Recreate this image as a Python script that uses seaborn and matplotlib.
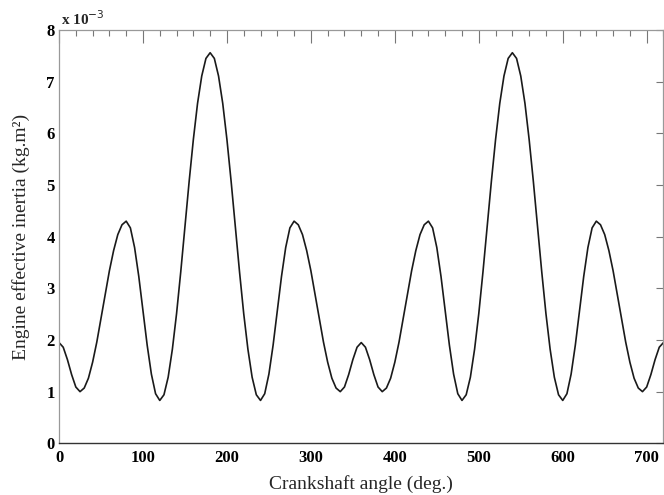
import numpy as np
import pandas as pd
import matplotlib
matplotlib.use("Agg")
import matplotlib.pyplot as plt
from matplotlib.ticker import MultipleLocator
import seaborn as sns

# Crankshaft angle (deg), sampled every 5 degrees
angle = list(range(0, 725, 5))

# Engine effective inertia (x 10^-3 kg.m^2)
inertia_0_360 = [
    1.95, 1.86, 1.62, 1.33, 1.09, 1.00,              # 0-25
    1.07, 1.26, 1.57, 1.96, 2.42, 2.88, 3.34, 3.73,  # 30-65
    4.04, 4.23, 4.30,                                # 70-80
    4.17, 3.79, 3.23, 2.57, 1.90, 1.34, 0.96, 0.83,  # 85-120
    0.94, 1.28, 1.82, 2.51, 3.32, 4.20, 5.07, 5.88,  # 125-160
    6.58, 7.11, 7.45, 7.56,                          # 165-180
    7.45, 7.11, 6.58, 5.88, 5.07, 4.20, 3.32, 2.51,  # 185-220
    1.82, 1.28, 0.94, 0.83,                          # 225-240
    0.96, 1.34, 1.90, 2.57, 3.23, 3.79, 4.17, 4.30,  # 245-280
    4.23, 4.04, 3.73, 3.34, 2.88, 2.42, 1.96, 1.57,  # 285-320
    1.26, 1.07, 1.00,                                # 325-335
    1.09, 1.33, 1.62, 1.86, 1.95,                    # 340-360
]
inertia_365_720 = [
    1.86, 1.62, 1.33, 1.09, 1.00,                    # 365-385
    1.07, 1.26, 1.57, 1.96, 2.42, 2.88, 3.34, 3.73,  # 390-425
    4.04, 4.23, 4.30,                                # 430-440
    4.17, 3.79, 3.23, 2.57, 1.90, 1.34, 0.96, 0.83,  # 445-480
    0.94, 1.28, 1.82, 2.51, 3.32, 4.20, 5.07, 5.88,  # 485-520
    6.58, 7.11, 7.45, 7.56,                          # 525-540
    7.45, 7.11, 6.58, 5.88, 5.07, 4.20, 3.32, 2.51,  # 545-580
    1.82, 1.28, 0.94, 0.83,                          # 585-600
    0.96, 1.34, 1.90, 2.57, 3.23, 3.79, 4.17, 4.30,  # 605-640
    4.23, 4.04, 3.73, 3.34, 2.88, 2.42, 1.96, 1.57,  # 645-680
    1.26, 1.07, 1.00,                                # 685-695
    1.09, 1.33, 1.62, 1.86, 1.95,                    # 700-720
]
inertia = inertia_0_360 + inertia_365_720

x_ticks = [0, 100, 200, 300, 400, 500, 600, 700]
y_ticks = [0, 1, 2, 3, 4, 5, 6, 7, 8]

df = pd.DataFrame({"angle": angle, "inertia": inertia})

sns.set_style("white")
plt.rcParams["font.family"] = ["Liberation Serif", "DejaVu Serif"]
plt.rcParams["lines.solid_joinstyle"] = "round"

fig = plt.figure(figsize=(6.64, 4.95), dpi=100)
ax = fig.add_axes([0.0889, 0.1044, 0.9103, 0.835])

sns.lineplot(data=df, x="angle", y="inertia", ax=ax, color="#1a1a1a",
             linewidth=1.2, sort=False, estimator=None)

ax.set_xlim(0, 720)
ax.set_ylim(0, 8)
ax.set_xticks(x_ticks)
ax.set_yticks(y_ticks)
ax.xaxis.set_minor_locator(MultipleLocator(20))
ax.tick_params(axis="both", which="both", direction="in", top=True, right=True,
               colors="#777777", labelcolor="black", width=0.8)
ax.tick_params(axis="x", which="major", length=9)
ax.tick_params(axis="x", which="minor", length=4)
ax.tick_params(axis="y", which="major", length=5)
for lbl in ax.get_xticklabels() + ax.get_yticklabels():
    lbl.set_fontweight("bold")
    lbl.set_fontsize(12)
ax.tick_params(axis="x", pad=5)
ax.tick_params(axis="y", pad=3)

for side in ["left", "right", "top"]:
    ax.spines[side].set_color("#999999")
    ax.spines[side].set_linewidth(0.9)
ax.spines["bottom"].set_color("#333333")
ax.spines["bottom"].set_linewidth(1.0)

ax.set_xlabel("Crankshaft angle (deg.)", fontsize=14, labelpad=6)
ax.set_ylabel("Engine effective inertia (kg.m²)", fontsize=14, labelpad=12)

ax.text(0.003, 1.005, "x 10$^{-3}$", transform=ax.transAxes, fontsize=11,
        fontweight="bold", ha="left", va="bottom")

fig.savefig("out.png", dpi=100)
